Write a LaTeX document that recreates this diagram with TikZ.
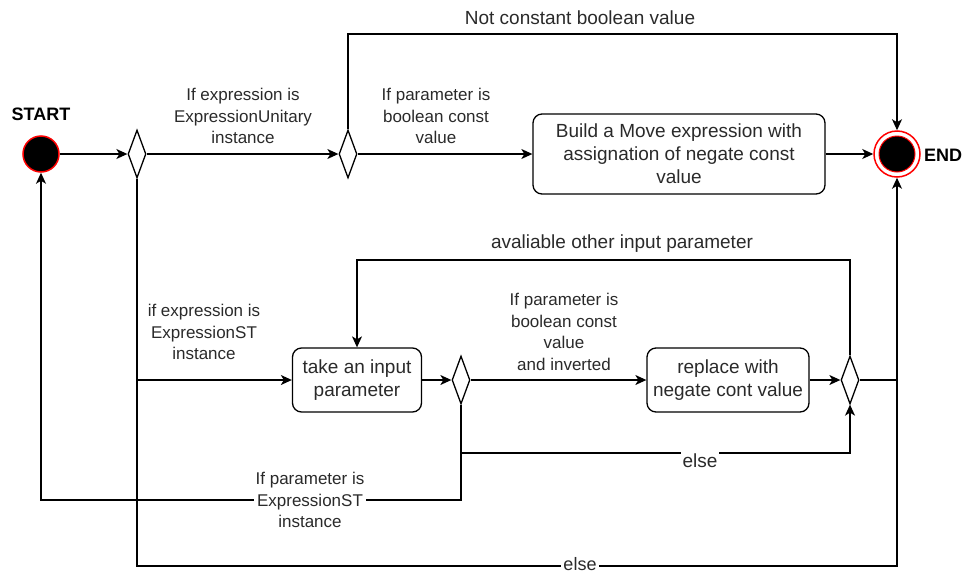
\documentclass[tikz,border=0pt]{standalone}
\usepackage{fontspec}
\setmainfont{Liberation Sans}
\usetikzlibrary{shapes.geometric,arrows.meta}
\definecolor{txt}{HTML}{2A2A2A}
\begin{document}
\begin{tikzpicture}[x=1pt,y=-1pt,
  line/.style={line width=1.3pt, draw=black},
  arr/.style={line, -{Stealth[length=11pt,width=10pt,inset=3pt]}},
  action/.style={draw, line width=1.3pt, rounded corners=9pt, align=center,
    text=txt, font=\fontsize{19}{23}\selectfont, inner sep=0pt},
  choice/.style={draw, line width=1.3pt, diamond, minimum width=18pt,
    minimum height=48pt, inner sep=0pt, fill=white},
  lbl/.style={text=txt, align=center, font=\fontsize{17}{21.5}\selectfont, inner sep=1pt},
  biglbl/.style={text=txt, align=center, font=\fontsize{19}{23}\selectfont, inner sep=1pt},
  term/.style={font=\fontsize{18}{22}\selectfont\bfseries, text=black, inner sep=0pt}
]
\useasboundingbox (0,0) rectangle (963,573);

% terminals
\node[circle, fill=black, draw=red, line width=1.5pt, minimum size=36pt, inner sep=0pt] (start) at (41,154) {};
\node[term] (starttxt) at (41,114) {START};
\node[circle, draw=red, line width=1.5pt, minimum size=46pt, inner sep=0pt] (end) at (897,154) {};
\node[circle, fill=black, draw=red, line width=1pt, minimum size=36pt, inner sep=0pt] (endin) at (897,154) {};
\node[term, anchor=west] (endtxt) at (924,155) {END};

% decisions
\node[choice] (d1) at (137,154) {};
\node[choice] (d2) at (348,154) {};
\node[choice] (d3) at (461,380) {};
\node[choice] (d4) at (850,380) {};

% actions
\node[action, minimum width=292pt, minimum height=80pt] (build) at (679,154)
  {Build a Move expression with\\assignation of negate const\\value};
\node[action, minimum width=129pt, minimum height=64pt] (take) at (357,380)
  {take an input\\parameter};
\node[action, minimum width=162pt, minimum height=64pt] (repl) at (728,380)
  {replace with\\negate cont value};

% junction points
\coordinate (j1) at (137,380);
\coordinate (j3) at (461,453);
\coordinate (m4) at (897,380);

% upper row
\draw[arr] (start) -- (d1);
\draw[arr] (d1) -- (d2);
\draw[arr] (d2) -- (build);
\draw[arr] (build) -- (end);
\draw[arr] (d2.north) -- (348,34) -| (end.north);

% ExpressionST branch
\draw[line] (d1.south) -- (j1);
\draw[arr] (j1) -- (take);
\draw[arr] (j1) -- (137,566) -| (end.south);
\draw[arr] (take) -- (d3);
\draw[arr] (d3) -- (repl);
\draw[arr] (repl) -- (d4);
\draw[line] (d4.east) -- (m4);
\draw[arr] (d4.north) -- (850,260) -| (take.north);
\draw[arr] (d3.south) -- (j3) -| (d4.south);
\draw[arr] (j3) -- (461,500) -| (start.south);

% labels
\node[lbl] (l1) at (243,116) {If expression is\\ExpressionUnitary\\instance};
\node[lbl] (l2) at (436,116) {If parameter is\\boolean const\\value};
\node[biglbl] (l3) at (580,18) {Not constant boolean value};
\node[lbl] (l4) at (204,332) {if expression is\\ExpressionST\\instance};
\node[biglbl] (l5) at (622,244) {avaliable other input parameter};
\node[lbl] (l6) at (564,332) {If parameter is\\boolean const\\value\\and inverted};
\node[biglbl, fill=white, inner sep=2pt] (l7) at (700,461) {else};
\node[lbl, fill=white, inner sep=2pt] (l8) at (310,500) {If parameter is\\ExpressionST\\instance};
\node[lbl, fill=white, inner sep=2pt, font=\fontsize{18}{21}\selectfont] (l9) at (580,564) {else};
\end{tikzpicture}
\end{document}
